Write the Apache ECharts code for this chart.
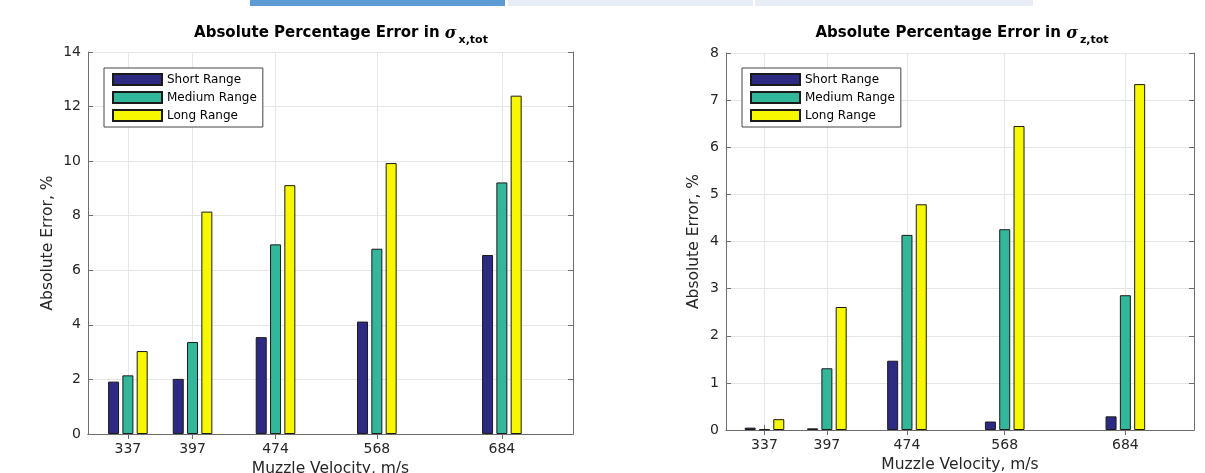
<!DOCTYPE html>
<html><head><meta charset="utf-8">
<script src="https://cdn.jsdelivr.net/npm/echarts@6/dist/echarts.min.js"></script>
<style>html,body{margin:0;padding:0;background:#fff}#c{width:1205px;height:473px}</style>
</head><body><div id="c"></div>
<script>
// ---- data ----
const velocities = [337, 397, 474, 568, 684];
const seriesNames = ['Short Range', 'Medium Range', 'Long Range'];
const sigmaXShort  = [1.92, 2.02, 3.55, 4.12, 6.56];
const sigmaXMedium = [2.15, 3.37, 6.95, 6.79, 9.22];
const sigmaXLong   = [3.04, 8.15, 9.12, 9.93, 12.40];
const sigmaZShort  = [0.05, 0.035, 1.47, 0.18, 0.29];
const sigmaZMedium = [0.015, 1.31, 4.14, 4.26, 2.86];
const sigmaZLong   = [0.23, 2.61, 4.79, 6.45, 7.34];
const xLabel = 'Muzzle Velocity, m/s';
const yLabel = 'Absolute Error, %';

// ---- styles ----
const FONT = 'DejaVu Sans';
const axisColor = '#6e6e6e';
const textColor = '#262626';
const gridColor = '#e6e6e6';
const colors = ['#2d2a84', '#33b79b', '#f7f700'];

function pairs(arr) { return velocities.map((v, i) => [v, arr[i]]); }

function xAxesFor(gi, nameGap) {
  return [{
    type: 'value', gridIndex: gi, min: 300, max: 750, position: 'bottom',
    axisLine: { show: true, lineStyle: { color: axisColor, width: 1 } },
    axisTick: { show: true, inside: true, length: 5, customValues: velocities, lineStyle: { color: axisColor } },
    axisLabel: { customValues: velocities, color: textColor, fontSize: 14, fontFamily: FONT, margin: 8 },
    splitLine: { show: true, lineStyle: { color: gridColor } },
    name: xLabel, nameLocation: 'middle', nameGap: nameGap,
    nameTextStyle: { color: textColor, fontSize: 15.5, fontFamily: FONT }
  }, {
    type: 'value', gridIndex: gi, min: 300, max: 750, position: 'top',
    axisLine: { show: true, lineStyle: { color: axisColor, width: 1 } },
    axisTick: { show: true, inside: true, length: 5, customValues: velocities, lineStyle: { color: axisColor } },
    axisLabel: { show: false, customValues: velocities },
    splitLine: { show: false }
  }];
}
function yAxesFor(gi, max, interval, nameGap) {
  return [{
    type: 'value', gridIndex: gi, min: 0, max: max, interval: interval, position: 'left',
    axisLine: { show: true, lineStyle: { color: axisColor, width: 1 } },
    axisTick: { show: true, inside: true, length: 5, lineStyle: { color: axisColor } },
    axisLabel: { color: textColor, fontSize: 14, fontFamily: FONT, margin: 7 },
    splitLine: { show: true, lineStyle: { color: gridColor } },
    name: yLabel, nameLocation: 'middle', nameGap: nameGap,
    nameTextStyle: { color: textColor, fontSize: 15.5, fontFamily: FONT }
  }, {
    type: 'value', gridIndex: gi, min: 0, max: max, interval: interval, position: 'right',
    axisLine: { show: true, lineStyle: { color: axisColor, width: 1 } },
    axisTick: { show: true, inside: true, length: 5, lineStyle: { color: axisColor } },
    axisLabel: { show: false },
    splitLine: { show: false }
  }];
}
function barSeries(name, data, ci, xi, yi) {
  return {
    type: 'bar', name: name, xAxisIndex: xi, yAxisIndex: yi, data: pairs(data),
    barWidth: 11, barGap: '30%',
    itemStyle: { color: colors[ci], borderColor: '#1a1a1a', borderWidth: 1 },
    emphasis: { disabled: true }, animation: false
  };
}
function titleFor(sub, left) {
  return {
    left: left, top: 16, textAlign: 'center',
    text: '{m|Absolute Percentage Error in }{s|σ}{b|' + sub + '}',
    textStyle: {
      rich: {
        m: { fontFamily: FONT, fontWeight: 'bold', fontSize: 15, color: '#000' },
        s: { fontFamily: 'DejaVu Serif', fontStyle: 'italic', fontSize: 16, color: '#000' },
        b: { fontFamily: FONT, fontWeight: 'bold', fontSize: 11, color: '#000', padding: [14, 0, 0, 2] }
      }
    }
  };
}
function legendFor(left, top) {
  return {
    data: seriesNames, orient: 'vertical', left: left, top: top,
    icon: 'rect',
    itemWidth: 49, itemHeight: 11, itemGap: 5,
    padding: [5, 6, 5, 8], borderColor: '#444', borderWidth: 1, backgroundColor: '#fff',
    textStyle: { fontFamily: FONT, fontSize: 12, color: '#000' },
    selectedMode: false
  };
}

const option = {
  backgroundColor: '#fff',
  animation: false,
  title: [titleFor('x,tot', 336), titleFor('z,tot', 957)],
  legend: [legendFor(104, 68), legendFor(742, 68)],
  grid: [
    { left: 88, top: 52, width: 485, height: 382, containLabel: false, outerBoundsMode: 'none' },
    { left: 726, top: 53, width: 468, height: 377, containLabel: false, outerBoundsMode: 'none' }
  ],
  xAxis: xAxesFor(0, 25).concat(xAxesFor(1, 25)),
  yAxis: yAxesFor(0, 14, 2, 32).concat(yAxesFor(1, 8, 1, 24)),
  series: [
    barSeries(seriesNames[0], sigmaXShort, 0, 0, 0),
    barSeries(seriesNames[1], sigmaXMedium, 1, 0, 0),
    barSeries(seriesNames[2], sigmaXLong, 2, 0, 0),
    barSeries(seriesNames[0], sigmaZShort, 0, 2, 2),
    barSeries(seriesNames[1], sigmaZMedium, 1, 2, 2),
    barSeries(seriesNames[2], sigmaZLong, 2, 2, 2)
  ],
  graphic: [
    { type: 'rect', shape: { x: 250, y: 0, width: 255, height: 6 }, style: { fill: '#5d9bd4' }, silent: true },
    { type: 'rect', shape: { x: 508, y: 0, width: 245, height: 6 }, style: { fill: '#e8ecf5' }, silent: true },
    { type: 'rect', shape: { x: 755, y: 0, width: 278, height: 6 }, style: { fill: '#e8ecf5' }, silent: true }
  ]
};
const chart = echarts.init(document.getElementById('c'), null, { renderer: 'canvas' });
chart.setOption(option);
</script>
</body></html>
